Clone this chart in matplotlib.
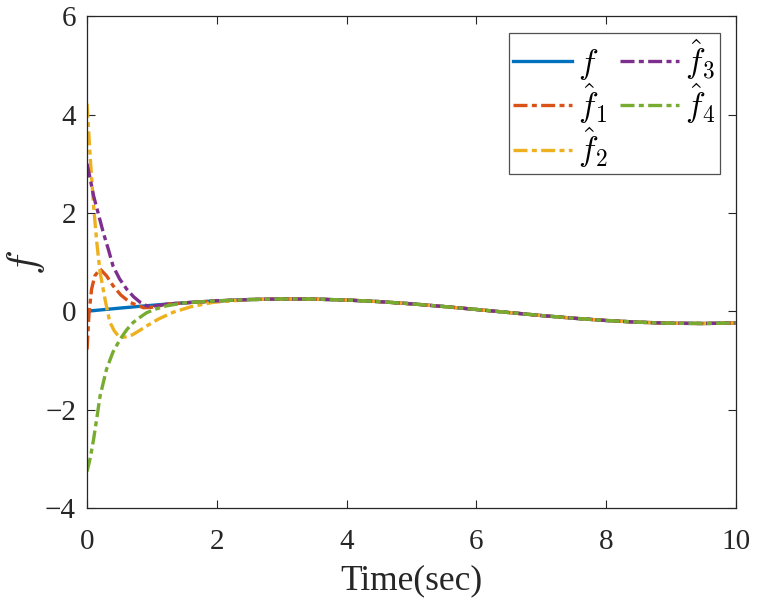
import numpy as np
import matplotlib
matplotlib.use("Agg")
import matplotlib.pyplot as plt

# ── Data ──────────────────────────────────────────────────────────────────────
# true signal f
t_f = [0, 0.25, 0.5, 0.75, 1.0, 1.25, 1.5, 1.75, 2.0, 2.5, 3.0, 3.5, 4.0, 4.5, 5.0,
       5.5, 6.0, 6.5, 7.0, 7.5, 8.0, 8.5, 9.0, 9.5, 10.0]
f_true = [0.0, 0.031, 0.062, 0.092, 0.120, 0.146, 0.170, 0.191, 0.210, 0.237, 0.249,
          0.246, 0.227, 0.195, 0.150, 0.095, 0.035, -0.027, -0.088, -0.143, -0.189,
          -0.224, -0.245, -0.250, -0.240]

# estimates: transient part, then they sit on top of f
t_f1 = [0, 0.03, 0.07, 0.12, 0.2, 0.3, 0.4, 0.52, 0.66, 0.87, 1.0, 1.25]
f1_head = [-0.78, -0.05, 0.45, 0.72, 0.86, 0.72, 0.52, 0.33, 0.18, 0.07, 0.08, 0.146]

t_f2 = [0, 0.05, 0.1, 0.15, 0.2, 0.28, 0.35, 0.42, 0.48, 0.55, 0.61, 0.7, 0.8,
        0.92, 1.1, 1.33, 1.6, 1.94, 2.5]
f2_head = [4.22, 3.1, 2.15, 1.4, 0.8, 0.22, -0.22, -0.40, -0.50, -0.53, -0.52,
           -0.48, -0.40, -0.30, -0.16, -0.02, 0.09, 0.18, 0.237]

t_f3 = [0, 0.05, 0.1, 0.18, 0.25, 0.33, 0.4, 0.5, 0.61, 0.72, 0.82, 0.92, 1.0, 1.25]
f3_head = [3.0, 2.68, 2.35, 1.95, 1.6, 1.25, 0.92, 0.66, 0.45, 0.29, 0.18, 0.11,
           0.10, 0.146]

t_f4 = [0, 0.05, 0.1, 0.15, 0.2, 0.3, 0.4, 0.51, 0.61, 0.71, 0.82, 0.92, 1.05,
        1.23, 1.5]
f4_head = [-3.26, -2.98, -2.61, -2.18, -1.73, -1.18, -0.83, -0.57, -0.38, -0.23,
           -0.12, -0.03, 0.04, 0.11, 0.170]

labels = [r"$f$", r"$\hat{f}_1$", r"$\hat{f}_2$", r"$\hat{f}_3$", r"$\hat{f}_4$"]
colors = ["#0072BD", "#D95319", "#EDB120", "#7E2F8E", "#77AC30"]


def with_tail(t_head, v_head):
    # after the transient each estimate follows f
    t_tail = [t for t in t_f if t > t_head[-1]]
    v_tail = [v for t, v in zip(t_f, f_true) if t > t_head[-1]]
    return np.array(t_head + t_tail), np.array(v_head + v_tail)


# ── Plot ──────────────────────────────────────────────────────────────────────
plt.rcParams["font.family"] = ["Liberation Serif", "DejaVu Serif"]
plt.rcParams["mathtext.fontset"] = "cm"

fig = plt.figure(figsize=(7.57, 6.01), dpi=100)
ax = fig.add_axes([0.115, 0.155, 0.857, 0.818])

ax.plot(t_f, f_true, "-", color=colors[0], lw=2.4, label=labels[0])
dash = (0, (4.2, 1.3, 1.5, 1.3))
for th, vh, c, lab in [(t_f1, f1_head, colors[1], labels[1]),
                       (t_f2, f2_head, colors[2], labels[2]),
                       (t_f3, f3_head, colors[3], labels[3]),
                       (t_f4, f4_head, colors[4], labels[4])]:
    tt, vv = with_tail(th, vh)
    ax.plot(tt, vv, linestyle=dash, color=c, lw=2.4, label=lab)

ax.set_xlim(0, 10)
ax.set_ylim(-4, 6)
ax.set_xticks([0, 2, 4, 6, 8, 10])
ax.set_yticks([-4, -2, 0, 2, 4, 6])
ax.set_yticklabels(["\u22124", "\u22122", "0", "2", "4", "6"])
ax.tick_params(direction="in", length=6, width=0.8, top=True, right=True,
               labelsize=21, colors="#262626")
ax.tick_params(axis="x", pad=15)
ax.tick_params(axis="y", pad=8)
for s in ax.spines.values():
    s.set_linewidth(0.9)
    s.set_color("#262626")

ax.set_xlabel("Time(sec)", fontsize=25.5, labelpad=7, color="#262626")
ax.set_ylabel(r"$f$", fontsize=30, color="#262626", ha="center", va="center")
ax.yaxis.set_label_coords(-0.094, 0.5)

leg = ax.legend(ncol=2, loc="upper right", fontsize=24, frameon=True, fancybox=False,
                edgecolor="#262626", handlelength=1.77, columnspacing=0.36,
                handletextpad=0.18, labelspacing=0.0, borderpad=0.12,
                borderaxespad=0, bbox_to_anchor=(0.9753, 0.9654))
leg.get_frame().set_linewidth(0.9)

fig.savefig("out.png", dpi=100)
